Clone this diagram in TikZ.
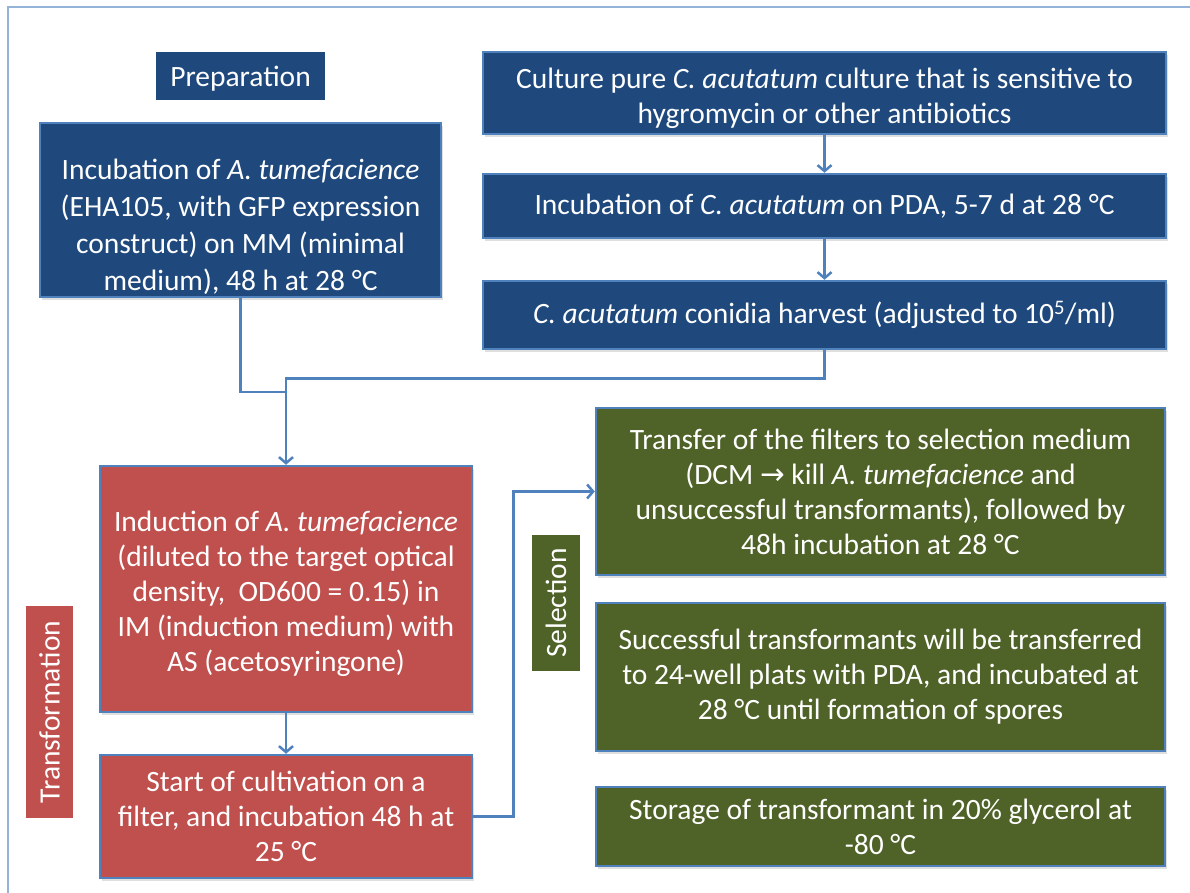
\documentclass[tikz,border=0pt]{standalone}
\usepackage{fontspec}
\setmainfont{Carlito}
\newfontfamily\arrowfont{DejaVu Sans}
\usetikzlibrary{arrows.meta,shadows}

\definecolor{prepblue}{HTML}{1F497D}
\definecolor{transred}{HTML}{C0504D}
\definecolor{selgreen}{HTML}{4F6228}
\definecolor{edgeblue}{HTML}{4F81BD}
\definecolor{framecol}{HTML}{95B3D7}

% lower a block of centred lines inside its box
\newcommand\droptext[2]{\raisebox{-#1}[0pt][0pt]{\begin{tabular}{@{}c@{}}#2\end{tabular}}}

\begin{document}
\begin{tikzpicture}[x=1pt, y=-1pt, >={Straight Barb[length=6pt,width=14pt]},
  every node/.style={font=\fontsize{29.5}{35}\selectfont, text=white, align=center, inner sep=0pt},
  stepbox/.style={draw=edgeblue, line width=2.5pt,
    drop shadow={opacity=0.25, shadow xshift=2pt, shadow yshift=-3pt}},
  phase/.style={draw=none},
  link/.style={draw=edgeblue, line width=2.5pt},
  arr/.style={link, ->}]
  \useasboundingbox (0,0) rectangle (1190,892);
  % outer frame
  \draw[framecol, line width=1.5pt] (8,900) -- (8,7) -- (1200,7);

  % Preparation
  \node[phase, fill=prepblue, minimum width=169pt, minimum height=48pt] (prep) at (240.5,76) {\droptext{10pt}{Preparation}};
  \node[stepbox, fill=prepblue, minimum width=401pt, minimum height=174pt, font=\fontsize{29.5}{37}\selectfont] (incA) at (240.5,210)
    {\droptext{24pt}{Incubation of \textit{A. tumefacience}\\(EHA105, with GFP expression\\construct) on MM (minimal\\medium), 48 h at 28 °C}};
  \node[stepbox, fill=prepblue, minimum width=683pt, minimum height=82pt] (cult) at (824.5,93)
    {\droptext{12pt}{Culture pure \textit{C. acutatum} culture that is sensitive to\\hygromycin or other antibiotics}};
  \node[stepbox, fill=prepblue, minimum width=683pt, minimum height=64pt] (incC) at (824.5,206)
    {Incubation of \textit{C. acutatum} on PDA, 5-7 d at 28 °C};
  \node[stepbox, fill=prepblue, minimum width=683pt, minimum height=68pt] (harv) at (824.5,315)
    {\textit{C. acutatum} conidia harvest (adjusted to 10\textsuperscript{5}/ml)};

  % Transformation
  \node[phase, fill=transred, minimum width=212pt, minimum height=47pt, rotate=90] (trans) at (49.5,712) {Transformation};
  \node[stepbox, fill=transred, minimum width=372pt, minimum height=246pt] (induc) at (286,589)
    {\droptext{12pt}{Induction of \textit{A. tumefacience}\\(diluted to the target optical\\density,\ \ OD600 = 0.15) in\\IM (induction medium) with\\AS (acetosyringone)}};
  \node[stepbox, fill=transred, minimum width=372pt, minimum height=123pt] (start) at (286,816.5)
    {Start of cultivation on a\\filter, and incubation 48 h at\\25 °C};

  % Selection
  \node[phase, fill=selgreen, minimum width=136pt, minimum height=48pt, rotate=90] (sel) at (556,603) {Selection};
  \node[stepbox, fill=selgreen, minimum width=569pt, minimum height=167pt] (transfer) at (880.5,491.5)
    {Transfer of the filters to selection medium\\(DCM {\arrowfont →} kill \textit{A. tumefacience} and\\unsuccessful transformants), followed by\\48h incubation at 28 °C};
  \node[stepbox, fill=selgreen, minimum width=569pt, minimum height=148pt] (succ) at (880.5,677)
    {Successful transformants will be transferred\\to 24-well plats with PDA, and incubated at\\28 °C until formation of spores};
  \node[stepbox, fill=selgreen, minimum width=569pt, minimum height=79pt] (stor) at (880.5,826.5)
    {Storage of transformant in 20\% glycerol at\\-80 °C};

  % connectors
  \draw[arr] (cult) -- (incC);
  \draw[arr] (incC) -- (harv);
  \coordinate (merge) at (286,392);
  \draw[link] (incA.south) |- (merge);
  \draw[arr] (harv.south) -- ++(0,28) -| (induc.north);
  \draw[arr] (induc) -- (start);
  \draw[arr] (start.east) -- ++(40,0) |- (transfer.west);
\end{tikzpicture}
\end{document}
